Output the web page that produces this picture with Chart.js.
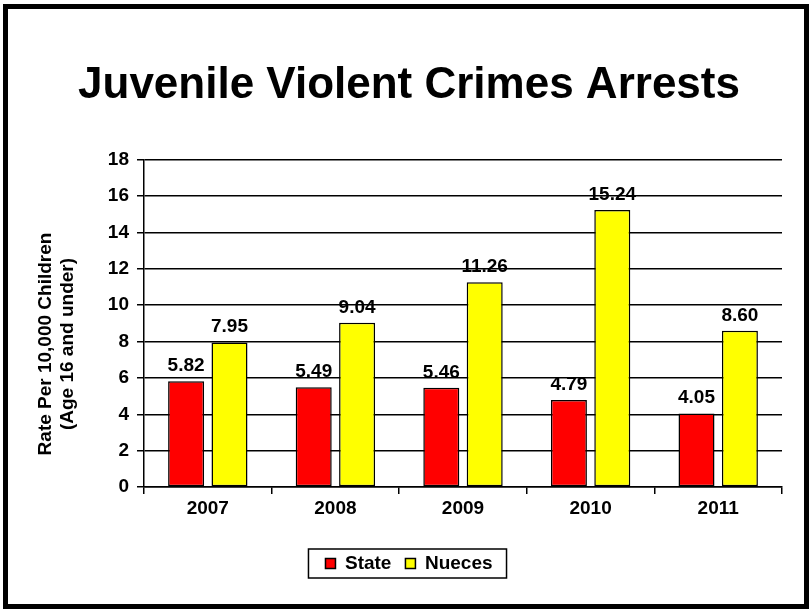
<!DOCTYPE html>
<html>
<head>
<meta charset="utf-8">
<script src="https://cdn.jsdelivr.net/npm/chart.js@4"></script>
<style>
  body { margin: 0; background: #fff; }
  #wrap { position: relative; width: 809px; height: 609px; }
  #frame {
    position: absolute; left: 3px; top: 4px; width: 806px; height: 605px;
    box-sizing: border-box; border: 5px solid #000; pointer-events: none;
  }
</style>
</head>
<body>
<div id="wrap">
  <canvas id="crimeChart"></canvas>
  <div id="frame"></div>
</div>
<script>
const years = ["2007", "2008", "2009", "2010", "2011"];
const stateRates = [5.82, 5.49, 5.46, 4.79, 4.05];
const nuecesRates = [7.95, 9.04, 11.26, 15.24, 8.60];
const yTicks = [0, 2, 4, 6, 8, 10, 12, 14, 16, 18];

const FONT = "'Liberation Sans', Arial, sans-serif";
Chart.defaults.color = "#000";
Chart.defaults.font.family = FONT;

// values above each bar
const barLabels = {
  id: "barLabels",
  afterDatasetsDraw(chart) {
    const ctx = chart.ctx;
    ctx.save();
    ctx.font = "bold 19px " + FONT;
    ctx.fillStyle = "#000";
    ctx.textAlign = "center";
    ctx.textBaseline = "alphabetic";
    chart.data.datasets.forEach((ds, i) => {
      chart.getDatasetMeta(i).data.forEach((bar, j) => {
        ctx.fillText(ds.data[j].toFixed(2), bar.x, bar.y - 10);
      });
    });
    ctx.restore();
  }
};

// two-line rotated y title + box round the legend
const extras = {
  id: "extras",
  afterDraw(chart) {
    const ctx = chart.ctx;
    ctx.save();
    ctx.font = "bold 19px " + FONT;
    ctx.fillStyle = "#000";
    ctx.textAlign = "center";
    ctx.textBaseline = "middle";
    ctx.translate(0, 344);
    ctx.rotate(-Math.PI / 2);
    ctx.fillText("Rate Per 10,000 Children", 0, 46);
    ctx.fillText("(Age 16 and under)", 0, 68);
    ctx.restore();

    const boxes = chart.legend.legendHitBoxes;
    if (boxes && boxes.length) {
      const left = boxes[0].left - 17;
      const right = boxes[boxes.length - 1].left + boxes[boxes.length - 1].width + 14;
      const mid = boxes[0].top + boxes[0].height / 2;
      ctx.save();
      ctx.strokeStyle = "#000";
      ctx.lineWidth = 1.5;
      ctx.strokeRect(left, mid - 14.5, right - left, 29);
      ctx.restore();
    }
  }
};

new Chart(document.getElementById("crimeChart"), {
  type: "bar",
  data: {
    labels: years,
    datasets: [
      {
        label: "State",
        data: stateRates,
        backgroundColor: "#FF0000",
        borderColor: "#000",
        borderWidth: 1.5,
        borderSkipped: false,
        categoryPercentage: 0.68,
        barPercentage: 0.83
      },
      {
        label: "Nueces",
        data: nuecesRates,
        backgroundColor: "#FFFF00",
        borderColor: "#000",
        borderWidth: 1.5,
        borderSkipped: false,
        categoryPercentage: 0.68,
        barPercentage: 0.83
      }
    ]
  },
  options: {
    responsive: true,
    maintainAspectRatio: false,
    animation: false,
    layout: { padding: { top: 21, left: 36, right: 27, bottom: 26 } },
    plugins: {
      title: {
        display: true,
        text: "Juvenile Violent Crimes Arrests",
        font: { size: 44, weight: "bold" },
        color: "#000",
        padding: { top: 38, bottom: 48 }
      },
      legend: {
        position: "bottom",
        labels: {
          boxWidth: 10,
          boxHeight: 10,
          padding: 14,
          font: { size: 19, weight: "bold" },
          color: "#000"
        }
      },
      tooltip: { enabled: false }
    },
    scales: {
      x: {
        afterFit: (scale) => { scale.height = 53; },
        grid: {
          drawOnChartArea: false,
          drawTicks: true,
          tickLength: 7,
          color: "#000",
          lineWidth: 1.5
        },
        border: { display: true, color: "#000", width: 1.5 },
        ticks: { font: { size: 19, weight: "bold" }, padding: 3 }
      },
      y: {
        min: 0,
        max: 18,
        afterFit: (scale) => { scale.width = 108; },
        afterBuildTicks: (scale) => { scale.ticks = yTicks.map(v => ({ value: v })); },
        grid: { color: "#000", lineWidth: 1.5, tickLength: 7 },
        border: { display: true, color: "#000", width: 1.5 },
        ticks: { font: { size: 19, weight: "bold" }, padding: 8 }
      }
    }
  },
  plugins: [barLabels, extras]
});
</script>
</body>
</html>
